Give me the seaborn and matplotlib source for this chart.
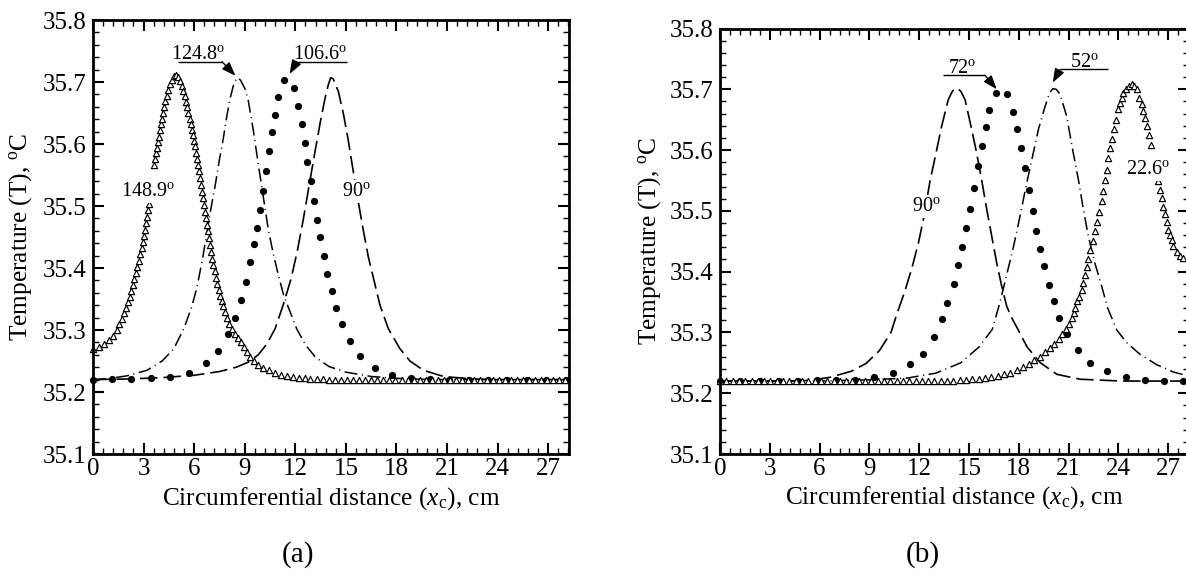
import matplotlib
matplotlib.use("Agg")
import matplotlib.pyplot as plt
from matplotlib.ticker import MultipleLocator, FormatStrFormatter
import pandas as pd
import seaborn as sns

# ---------------------------------------------------------------------------
# Temperature (deg C) along the circumferential distance x_c (cm)
# Panel (a): 148.9, 124.8, 106.6 and 90 degree source positions
# Panel (b): 90, 72, 52 and 22.6 degree source positions
# ---------------------------------------------------------------------------

# (a) 148.9 deg - open triangles
TRI_A = [
    (0.00, 35.270), (0.33, 35.273), (0.65, 35.278), (0.95, 35.284), (1.20, 35.291),
    (1.42, 35.300), (1.57, 35.309), (1.71, 35.318), (1.84, 35.327), (1.96, 35.336),
    (2.07, 35.345), (2.17, 35.354), (2.27, 35.363), (2.36, 35.372), (2.45, 35.382),
    (2.54, 35.392), (2.63, 35.402), (2.72, 35.412), (2.80, 35.422), (2.88, 35.432),
    (2.95, 35.442), (3.02, 35.452), (3.09, 35.462), (3.15, 35.472), (3.21, 35.483),
    (3.26, 35.493), (3.31, 35.504),
    (3.62, 35.566), (3.67, 35.576), (3.72, 35.585), (3.78, 35.594), (3.84, 35.603),
    (3.90, 35.612), (3.96, 35.622), (4.03, 35.632), (4.09, 35.641), (4.16, 35.650),
    (4.23, 35.660), (4.30, 35.669), (4.38, 35.678), (4.46, 35.687), (4.55, 35.696),
    (4.66, 35.704), (4.78, 35.710), (4.92, 35.711), (5.05, 35.708), (5.17, 35.702),
    (5.27, 35.694), (5.36, 35.686), (5.44, 35.677), (5.52, 35.668), (5.59, 35.659),
    (5.66, 35.650), (5.73, 35.641), (5.79, 35.632), (5.86, 35.623), (5.92, 35.614),
    (5.98, 35.605), (6.04, 35.596), (6.10, 35.586), (6.16, 35.576), (6.22, 35.566),
    (6.28, 35.556), (6.34, 35.545), (6.40, 35.534), (6.46, 35.523), (6.52, 35.513),
    (6.58, 35.502), (6.64, 35.491), (6.70, 35.481), (6.76, 35.470), (6.82, 35.459),
    (6.88, 35.448), (6.94, 35.437), (7.00, 35.426), (7.07, 35.415), (7.14, 35.405),
    (7.21, 35.395), (7.29, 35.384), (7.37, 35.374), (7.45, 35.364), (7.54, 35.355),
    (7.63, 35.346), (7.73, 35.338), (7.84, 35.329), (7.96, 35.319), (8.09, 35.310),
    (8.23, 35.302), (8.40, 35.294), (8.58, 35.287), (8.76, 35.280), (8.95, 35.272),
    (9.14, 35.264), (9.34, 35.257), (9.56, 35.250), (9.80, 35.244), (10.10, 35.239),
    (10.45, 35.235), (10.80, 35.231), (11.15, 35.228), (11.50, 35.226), (11.85, 35.224),
    (12.20, 35.223), (12.55, 35.222), (12.90, 35.221), (13.26, 35.221), (13.62, 35.221),
    (13.98, 35.220), (14.34, 35.220), (14.70, 35.220), (15.06, 35.220), (15.42, 35.220),
    (15.78, 35.220), (16.14, 35.220), (16.50, 35.220), (16.86, 35.220), (17.22, 35.220),
    (17.58, 35.220), (17.94, 35.220), (18.30, 35.220), (18.66, 35.220), (19.02, 35.220),
    (19.38, 35.220), (19.74, 35.220), (20.10, 35.220), (20.46, 35.220), (20.82, 35.220),
    (21.18, 35.220), (21.54, 35.220), (21.90, 35.220), (22.26, 35.220), (22.62, 35.220),
    (22.98, 35.220), (23.34, 35.220), (23.70, 35.220), (24.06, 35.220), (24.42, 35.220),
    (24.78, 35.220), (25.14, 35.220), (25.50, 35.220), (25.86, 35.220), (26.22, 35.220),
    (26.58, 35.220), (26.94, 35.220), (27.30, 35.220), (27.66, 35.220), (28.02, 35.220),
]

# (a) 106.6 deg - filled circles
DOT_A = [
    (0.00, 35.220), (1.14, 35.221), (2.27, 35.221), (3.45, 35.222), (4.59, 35.225),
    (5.68, 35.231), (6.70, 35.246), (7.43, 35.266), (8.02, 35.293), (8.44, 35.320),
    (8.78, 35.348), (9.07, 35.378), (9.31, 35.410), (9.53, 35.438), (9.71, 35.465),
    (9.89, 35.494), (10.06, 35.525), (10.26, 35.556), (10.44, 35.589), (10.62, 35.619),
    (10.81, 35.647), (10.99, 35.676), (11.35, 35.703), (11.94, 35.691), (12.14, 35.662),
    (12.41, 35.632), (12.57, 35.602), (12.71, 35.571), (12.95, 35.540), (13.13, 35.508),
    (13.29, 35.478), (13.48, 35.450), (13.68, 35.419), (13.90, 35.391), (14.16, 35.363),
    (14.44, 35.336), (14.79, 35.309), (15.23, 35.282), (15.84, 35.258), (16.70, 35.239),
    (17.73, 35.228), (18.86, 35.223), (20.00, 35.221), (21.12, 35.220), (22.28, 35.220),
    (23.42, 35.220), (24.56, 35.220), (25.72, 35.220), (26.88, 35.220), (28.04, 35.220),
]

# (a) 90 deg - dashed
DASH_A = [
    (0.0, 35.220), (2.0, 35.221), (4.0, 35.223), (6.0, 35.227), (7.5, 35.233),
    (8.5, 35.240), (9.2, 35.248), (9.8, 35.260), (10.3, 35.277), (10.8, 35.302),
    (11.3, 35.342), (11.75, 35.383), (12.1, 35.425), (12.45, 35.475), (12.8, 35.530),
    (13.15, 35.585), (13.5, 35.638), (13.75, 35.672), (13.95, 35.695), (14.1, 35.707),
    (14.25, 35.705), (14.55, 35.685), (14.85, 35.649), (15.14, 35.606), (15.40, 35.562),
    (15.74, 35.506), (16.03, 35.461), (16.33, 35.418), (16.73, 35.373), (17.02, 35.340),
    (17.52, 35.302), (18.2, 35.270), (18.8, 35.250), (19.6, 35.235), (20.8, 35.225),
    (22.5, 35.221), (24.0, 35.220), (28.25, 35.220),
]

# (a) 124.8 deg - dash-dot
DDOT_A = [
    (0.0, 35.220), (1.0, 35.222), (2.0, 35.226), (3.2, 35.235), (4.1, 35.250),
    (4.8, 35.270), (5.4, 35.303), (5.85, 35.337), (6.15, 35.367), (6.5, 35.415),
    (6.94, 35.488), (7.24, 35.532), (7.5, 35.575), (7.73, 35.609), (7.93, 35.644),
    (8.13, 35.673), (8.35, 35.697), (8.55, 35.707), (8.75, 35.703), (9.0, 35.690),
    (9.21, 35.670), (9.51, 35.622), (9.80, 35.568), (10.10, 35.515), (10.40, 35.462),
    (10.70, 35.422), (11.0, 35.388), (11.3, 35.357), (11.68, 35.330), (12.08, 35.302),
    (12.6, 35.276), (13.2, 35.256), (14.0, 35.241), (15.0, 35.232), (16.5, 35.225),
    (18.0, 35.222), (20.0, 35.220), (28.25, 35.220),
]

# (b) 22.6 deg - open triangles
TRI_B = [
    (0.00, 35.220), (0.38, 35.220), (0.76, 35.220), (1.14, 35.220), (1.52, 35.220),
    (1.90, 35.220), (2.28, 35.220), (2.66, 35.220), (3.04, 35.220), (3.42, 35.220),
    (3.80, 35.220), (4.18, 35.220), (4.56, 35.220), (4.94, 35.220), (5.32, 35.220),
    (5.70, 35.220), (6.08, 35.220), (6.46, 35.220), (6.84, 35.220), (7.22, 35.220),
    (7.60, 35.220), (7.98, 35.220), (8.36, 35.220), (8.74, 35.220), (9.12, 35.220),
    (9.50, 35.220), (9.88, 35.220), (10.26, 35.220), (10.64, 35.220), (11.02, 35.220),
    (11.40, 35.220), (11.78, 35.220), (12.16, 35.220), (12.54, 35.220), (12.92, 35.220),
    (13.30, 35.220), (13.68, 35.220), (14.06, 35.220), (14.44, 35.221), (14.82, 35.222),
    (15.20, 35.223), (15.58, 35.224), (15.96, 35.225), (16.34, 35.227), (16.72, 35.229),
    (17.10, 35.231), (17.48, 35.234), (17.86, 35.238), (18.23, 35.243), (18.59, 35.248),
    (18.94, 35.254), (19.27, 35.260), (19.58, 35.267), (19.87, 35.274), (20.14, 35.281),
    (20.39, 35.289), (20.62, 35.297), (20.83, 35.305), (21.02, 35.314), (21.19, 35.323),
    (21.31, 35.332), (21.40, 35.341), (21.53, 35.351), (21.65, 35.359), (21.79, 35.370),
    (21.89, 35.381), (21.99, 35.394), (22.09, 35.408), (22.19, 35.421), (22.29, 35.435),
    (22.45, 35.450), (22.59, 35.467), (22.69, 35.481), (22.85, 35.498), (22.99, 35.516),
    (23.09, 35.533), (23.19, 35.551), (23.29, 35.568), (23.39, 35.587), (23.49, 35.604),
    (23.59, 35.619), (23.73, 35.634), (23.86, 35.649), (24.00, 35.667), (24.10, 35.677),
    (24.20, 35.686), (24.30, 35.694), (24.46, 35.701), (24.63, 35.706), (24.80, 35.708),
    (24.95, 35.705), (25.10, 35.700), (25.26, 35.686), (25.40, 35.675), (25.50, 35.664),
    (25.60, 35.652), (25.70, 35.639), (25.86, 35.624), (25.96, 35.609),
    (26.41, 35.549), (26.51, 35.535), (26.61, 35.521), (26.71, 35.507), (26.81, 35.495),
    (26.91, 35.481), (27.01, 35.469), (27.11, 35.460), (27.21, 35.452), (27.31, 35.442),
    (27.51, 35.433), (27.71, 35.425), (27.91, 35.423),
]

# (b) 72 deg - filled circles
DOT_B = [
    (0.00, 35.220), (1.20, 35.220), (2.40, 35.220), (3.55, 35.220), (4.70, 35.220),
    (5.85, 35.221), (7.00, 35.221), (8.15, 35.222), (9.30, 35.226), (10.45, 35.234),
    (11.45, 35.248), (12.25, 35.265), (12.90, 35.293), (13.35, 35.322), (13.70, 35.348),
    (14.07, 35.380), (14.36, 35.411), (14.60, 35.440), (14.82, 35.471), (15.06, 35.503),
    (15.30, 35.538), (15.52, 35.573), (15.76, 35.606), (16.00, 35.638), (16.23, 35.666),
    (16.61, 35.694), (17.27, 35.693), (17.65, 35.663), (17.87, 35.635), (18.11, 35.604),
    (18.35, 35.570), (18.60, 35.534), (18.84, 35.500), (19.06, 35.467), (19.30, 35.437),
    (19.53, 35.409), (19.80, 35.378), (20.12, 35.351), (20.44, 35.324), (20.90, 35.297),
    (21.55, 35.271), (22.30, 35.250), (23.30, 35.236), (24.45, 35.227), (25.60, 35.222),
    (26.75, 35.220), (27.90, 35.220),
]

# (b) 90 deg - dashed
DASH_B = [
    (0.0, 35.220), (4.0, 35.220), (5.3, 35.221), (6.6, 35.226), (7.9, 35.236),
    (8.8, 35.249), (9.6, 35.270), (10.3, 35.300), (10.65, 35.330), (11.1, 35.365),
    (11.55, 35.405), (11.95, 35.447), (12.29, 35.491), (12.65, 35.549), (13.01, 35.595),
    (13.35, 35.639), (13.75, 35.683), (14.0, 35.697), (14.26, 35.702), (14.5, 35.697),
    (14.76, 35.683), (15.16, 35.634), (15.46, 35.595), (15.76, 35.551), (16.07, 35.502),
    (16.37, 35.458), (16.67, 35.414), (16.97, 35.376), (17.27, 35.343), (17.55, 35.325),
    (17.85, 35.310), (18.5, 35.276), (19.3, 35.250), (20.3, 35.231), (21.7, 35.223),
    (24.2, 35.220), (28.25, 35.220),
]

# (b) 52 deg - dash-dot
DDOT_B = [
    (0.0, 35.220), (6.0, 35.220), (9.0, 35.222), (11.3, 35.225), (13.0, 35.233),
    (14.5, 35.250), (15.6, 35.276), (16.4, 35.305), (16.87, 35.350), (17.27, 35.395),
    (17.67, 35.440), (18.07, 35.491), (18.43, 35.540), (18.78, 35.584), (19.18, 35.634),
    (19.58, 35.672), (19.85, 35.694), (20.05, 35.701), (20.25, 35.700), (20.48, 35.692),
    (20.88, 35.656), (21.28, 35.595), (21.59, 35.551), (21.89, 35.502), (22.19, 35.458),
    (22.55, 35.417), (22.99, 35.376), (23.35, 35.340), (23.9, 35.304), (24.5, 35.283),
    (25.3, 35.264), (26.3, 35.247), (27.3, 35.235), (28.25, 35.228),
]

X_TICKS = [0, 3, 6, 9, 12, 15, 18, 21, 24, 27]
Y_TICKS = [35.1, 35.2, 35.3, 35.4, 35.5, 35.6, 35.7, 35.8]
X_LABEL = "Circumferential distance ($\\it{x}_{\\rm c}$), cm"
Y_LABEL = "Temperature (T), $^{\\rm o}$C"

# ---------------------------------------------------------------------------
sns.set_theme(style="ticks")
plt.rcParams.update({
    "font.family": ["Liberation Serif", "DejaVu Serif"],
    "mathtext.fontset": "custom",
    "mathtext.rm": "Liberation Serif",
    "mathtext.it": "Liberation Serif:italic",
    "mathtext.bf": "Liberation Serif:bold",
    "axes.edgecolor": "black",
    "axes.linewidth": 2.0,
    "axes.facecolor": "white",
    "figure.facecolor": "white",
    "xtick.color": "black",
    "ytick.color": "black",
    "text.color": "black",
    "axes.labelcolor": "black",
})

DASHED = (0, (10.5, 3.6))
DASHDOT = (0, (8.5, 3.0, 0.7, 3.0))


def frame(pts):
    return pd.DataFrame(pts, columns=["x", "T"])


def draw_curves(ax, tri, dots, dash, ddot):
    sns.lineplot(data=frame(dash), x="x", y="T", ax=ax, color="black",
                 linewidth=1.2, linestyle=DASHED, sort=False, estimator=None)
    sns.lineplot(data=frame(ddot), x="x", y="T", ax=ax, color="black",
                 linewidth=1.1, linestyle=DASHDOT, sort=False, estimator=None)
    sns.scatterplot(data=frame(dots), x="x", y="T", ax=ax, marker="o", s=27,
                    color="black", linewidth=0, clip_on=False, zorder=3)
    pc = sns.scatterplot(data=frame(tri), x="x", y="T", ax=ax, marker="^", s=20,
                         clip_on=False, zorder=3).collections[-1]
    pc.set_facecolor("white")
    pc.set_edgecolor("black")
    pc.set_linewidth(0.85)


def style_axes(ax, ylab_x):
    ax.set_xlim(0, 28.25)
    ax.set_ylim(35.1, 35.8)
    ax.set_xticks(X_TICKS)
    ax.set_yticks(Y_TICKS)
    ax.xaxis.set_minor_locator(MultipleLocator(0.6))
    ax.yaxis.set_minor_locator(MultipleLocator(0.02))
    ax.yaxis.set_major_formatter(FormatStrFormatter("%.1f"))
    ax.tick_params(which="both", direction="in", top=True, right=True)
    ax.tick_params(which="major", length=8, width=1.5, labelsize=18)
    ax.tick_params(which="minor", length=4.3, width=1.0)
    ax.tick_params(axis="x", which="major", pad=3)
    ax.tick_params(axis="y", which="major", pad=4.5)
    ax.set_xlabel(X_LABEL, fontsize=18.3)
    ax.set_ylabel(Y_LABEL, fontsize=18.3)
    ax.xaxis.set_label_coords(0.5, -0.072)
    ax.yaxis.set_label_coords(ylab_x, 0.5)
    for sp in ax.spines.values():
        sp.set_linewidth(2.0)
        sp.set_zorder(10)


def tag(ax, x, y, s):
    ax.text(x, y, s, ha="center", va="baseline", fontsize=14.5, zorder=8,
            bbox=dict(facecolor="white", edgecolor="none", pad=1.5))


def pointer(ax, text_x, text_y, s, line_x0, line_x1, line_y, start, tip):
    ax.text(text_x, text_y, s, ha="center", va="baseline", fontsize=14.5, zorder=8)
    ax.plot([line_x0, line_x1], [line_y, line_y], color="black", lw=1.0,
            zorder=8, solid_capstyle="butt")
    ax.annotate("", xy=tip, xytext=start, zorder=8,
                arrowprops=dict(arrowstyle="-|>,head_length=0.6,head_width=0.22",
                                color="black", lw=1.0, shrinkA=0, shrinkB=0,
                                mutation_scale=14))


fig = plt.figure(figsize=(11.86, 5.75), dpi=100)
ax_a = fig.add_axes([0.07841, 0.21043, 0.40160, 0.75478])
ax_b = fig.add_axes([0.60708, 0.21043, 0.39545, 0.74000])

draw_curves(ax_a, TRI_A, DOT_A, DASH_A, DDOT_A)
draw_curves(ax_b, TRI_B, DOT_B, DASH_B, DDOT_B)
style_axes(ax_a, -0.124)
style_axes(ax_b, -0.122)

# panel (a) labels
tag(ax_a, 3.28, 35.516, "148.9$^{\\rm o}$")
tag(ax_a, 15.64, 35.516, "90$^{\\rm o}$")
pointer(ax_a, 6.23, 35.7372, "124.8$^{\\rm o}$", 5.04, 7.65, 35.7328,
        (7.65, 35.7328), (8.45, 35.710))
pointer(ax_a, 13.46, 35.7372, "106.6$^{\\rm o}$", 12.08, 15.05, 35.7328,
        (12.08, 35.7328), (11.66, 35.713))

# panel (b) labels
tag(ax_b, 25.75, 35.561, "22.6$^{\\rm o}$")
tag(ax_b, 12.45, 35.499, "90$^{\\rm o}$")
pointer(ax_b, 14.56, 35.7265, "72$^{\\rm o}$", 13.45, 15.96, 35.723,
        (15.96, 35.723), (16.67, 35.700))
pointer(ax_b, 21.93, 35.736, "52$^{\\rm o}$", 20.48, 23.39, 35.7326,
        (20.48, 35.7326), (20.04, 35.711))

fig.text(298 / 1186, 1 - 555 / 575, "(a)", ha="center", va="center", fontsize=21)
fig.text(923 / 1186, 1 - 555 / 575, "(b)", ha="center", va="center", fontsize=21)

fig.savefig("out.png", dpi=100, facecolor="white")
